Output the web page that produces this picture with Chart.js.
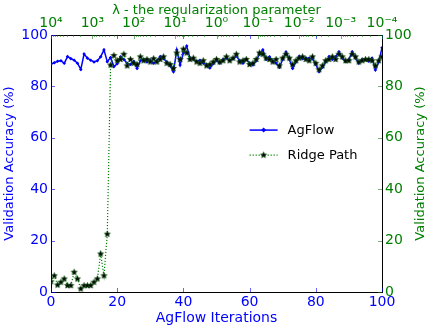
<!DOCTYPE html>
<html>
<head>
<meta charset="utf-8">
<script src="https://cdn.jsdelivr.net/npm/chart.js@4.4.0/dist/chart.umd.min.js"></script>
<style>
  html, body { margin: 0; padding: 0; background: #fff; }
</style>
</head>
<body>
<canvas id="chart" width="432" height="330"></canvas>
<script>
// data
const iterations = Array.from({ length: 101 }, (_, i) => i);
const agflowAcc = [
  88.7, 89.2, 89.8, 90.0, 89.0, 91.6, 90.8, 90.2, 89.0, 86.6,
  92.6, 91.0, 90.2, 89.5, 90.0, 91.5, 94.2, 89.6, 91.2, 87.7,
  88.8, 91.5, 90.5, 89.0, 88.5, 89.8, 87.0, 90.0, 90.5, 89.5,
  90.3, 89.0, 90.0, 91.6, 90.8, 89.5, 88.0, 85.7, 94.2, 88.3,
  93.0, 95.7, 91.0, 90.5, 89.7, 90.2, 89.0, 88.5, 87.2, 88.8,
  90.0, 89.0, 90.5, 91.0, 90.2, 90.8, 91.8, 90.0, 89.0, 90.5,
  89.0, 88.3, 90.0, 92.5, 94.2, 90.5, 91.5, 90.0, 89.0, 87.4,
  90.5, 93.4, 90.5, 87.0, 89.5, 91.7, 90.8, 91.0, 91.0, 90.8,
  88.5, 85.7, 87.5, 89.5, 91.6, 90.5, 91.5, 93.5, 91.0, 89.6,
  90.5, 93.5, 91.0, 89.0, 90.5, 90.3, 89.8, 91.0, 86.4, 89.5,
  95.0
];
const ridgeAcc = [
  4.0, 6.3, 2.7, 3.8, 5.1, 2.5, 2.5, 7.7, 5.1, 1.2,
  2.5, 2.5, 2.5, 3.8, 5.1, 14.8, 6.3, 22.5, 88.3, 92.0,
  90.0, 90.5, 92.5, 88.0, 90.5, 89.0, 88.5, 91.5, 90.0, 90.5,
  89.5, 90.8, 89.5, 90.5, 91.5, 89.0, 88.5, 87.0, 93.0, 90.5,
  94.5, 93.0, 90.5, 91.0, 89.5, 89.0, 90.0, 88.0, 88.5, 89.5,
  90.5, 89.5, 90.0, 91.5, 90.0, 91.0, 92.5, 89.5, 90.0, 90.5,
  88.5, 89.0, 90.5, 93.0, 92.5, 91.0, 90.5, 89.5, 90.5, 88.0,
  91.0, 92.5, 91.0, 88.5, 90.0, 91.0, 91.5, 90.5, 90.0, 91.5,
  89.0, 86.5, 88.0, 90.0, 90.5, 91.5, 90.5, 92.5, 91.5, 90.0,
  90.0, 92.5, 91.5, 89.5, 90.0, 90.5, 90.5, 90.0, 88.0, 90.0,
  91.5
];
const xTicks = [0, 20, 40, 60, 80, 100];
const yTicks = [0, 20, 40, 60, 80, 100];
const lambdaLabels = ['10\u2074', '10\u00b3', '10\u00b2', '10\u00b9', '10\u2070',
  '10\u207b\u00b9', '10\u207b\u00b2', '10\u207b\u00b3', '10\u207b\u2074'];

const BLUE = '#0000ff';
const GREEN = '#008000';
Chart.defaults.font.family = "'DejaVu Sans', sans-serif";

function makeStar(r) {
  const c = document.createElement('canvas');
  const s = Math.ceil(r * 2 + 2);
  c.width = c.height = s;
  const g = c.getContext('2d');
  g.beginPath();
  for (let k = 0; k < 10; k++) {
    const rad = k % 2 ? r * 0.45 : r;
    const a = -Math.PI / 2 + k * Math.PI / 5;
    g.lineTo(s / 2 + rad * Math.cos(a), s / 2 + rad * Math.sin(a));
  }
  g.closePath();
  g.fillStyle = '#000';
  g.fill();
  g.strokeStyle = '#0a4a0a';
  g.lineWidth = 0.7;
  g.stroke();
  return c;
}
const star = makeStar(3.1);

// inward ticks, right-hand title and the legend
const extras = {
  id: 'extras',
  afterDraw(chart) {
    const { ctx, chartArea: a, scales } = chart;
    ctx.save();
    ctx.lineWidth = 1;
    const tick = (x1, y1, x2, y2) => { ctx.beginPath(); ctx.moveTo(x1, y1); ctx.lineTo(x2, y2); ctx.stroke(); };

    ctx.strokeStyle = 'rgba(0,0,255,0.6)';
    xTicks.forEach(v => {
      const p = Math.round(scales.x.getPixelForValue(v)) + 0.5;
      tick(p, a.bottom, p, a.bottom - 4);
      tick(p, a.top, p, a.top + 4);
    });
    yTicks.forEach(v => {
      const p = Math.round(scales.y.getPixelForValue(v)) + 0.5;
      tick(a.left, p, a.left + 4, p);
    });
    ctx.strokeStyle = 'rgba(0,128,0,0.55)';
    yTicks.forEach(v => {
      const p = Math.round(scales.y2.getPixelForValue(v)) + 0.5;
      tick(a.right, p, a.right - 4, p);
    });
    lambdaLabels.forEach((_, d) => {
      const p = Math.round(scales.x2.getPixelForValue(d)) + 0.5;
      tick(p, a.top, p, a.top + 4);
      if (d < lambdaLabels.length - 1) {
        for (let k = 2; k <= 9; k++) {
          const q = Math.round(scales.x2.getPixelForValue(d + 1 - Math.log10(k))) + 0.5;
          tick(q, a.top, q, a.top + 2);
        }
      }
    });

    // right axis title, reading bottom to top
    ctx.fillStyle = GREEN;
    ctx.font = "13px 'DejaVu Sans'";
    ctx.textAlign = 'center';
    ctx.textBaseline = 'middle';
    ctx.translate(421, (a.top + a.bottom) / 2);
    ctx.rotate(-Math.PI / 2);
    ctx.fillText('Validation Accuracy (%)', 0, 0);
    ctx.restore();

    // legend
    ctx.save();
    const lx = a.left + 0.6 * (a.right - a.left);
    const ly = a.top + 0.37 * (a.bottom - a.top);
    ctx.font = "13px 'DejaVu Sans'";
    ctx.textBaseline = 'middle';
    ctx.strokeStyle = BLUE;
    ctx.lineWidth = 1.5;
    tick(lx, ly, lx + 28, ly);
    ctx.fillStyle = BLUE;
    ctx.beginPath();
    ctx.moveTo(lx + 14, ly - 2.5); ctx.lineTo(lx + 16.5, ly); ctx.lineTo(lx + 14, ly + 2.5); ctx.lineTo(lx + 11.5, ly);
    ctx.closePath(); ctx.fill();
    ctx.fillStyle = '#000';
    ctx.fillText('AgFlow', lx + 38, ly + 1);

    const ly2 = ly + 25;
    ctx.strokeStyle = GREEN;
    ctx.lineWidth = 1.2;
    ctx.setLineDash([1.2, 1.8]);
    tick(lx, ly2, lx + 28, ly2);
    ctx.setLineDash([]);
    ctx.drawImage(star, lx + 14 - star.width / 2, ly2 - star.height / 2);
    ctx.fillStyle = '#000';
    ctx.fillText('Ridge Path', lx + 38, ly2 + 1);
    ctx.restore();
  }
};

new Chart(document.getElementById('chart'), {
  type: 'line',
  data: {
    datasets: [
      {
        label: 'AgFlow',
        data: iterations.map((x, i) => ({ x: x, y: agflowAcc[i] })),
        borderColor: BLUE,
        backgroundColor: BLUE,
        borderWidth: 1.5,
        pointStyle: 'rectRot',
        pointRadius: 1.8,
        pointBorderWidth: 0,
        xAxisID: 'x',
        yAxisID: 'y',
        order: 1
      },
      {
        label: 'Ridge Path',
        data: iterations.map((x, i) => ({ x: x, y: ridgeAcc[i] })),
        borderColor: GREEN,
        borderWidth: 1.2,
        borderDash: [1.2, 1.8],
        pointStyle: star,
        xAxisID: 'x',
        yAxisID: 'y2',
        order: 0
      }
    ]
  },
  options: {
    responsive: false,
    animation: false,
    layout: { padding: 0 },
    plugins: { legend: { display: false }, tooltip: { enabled: false } },
    scales: {
      x: {
        type: 'linear', position: 'bottom', min: 0, max: 100,
        grid: { display: false, drawTicks: false },
        border: { display: true, color: '#000', width: 1 },
        ticks: { stepSize: 20, color: BLUE, font: { size: 14 }, padding: 2, maxRotation: 0 },
        title: { display: true, text: 'AgFlow Iterations', color: BLUE, font: { size: 14 }, padding: { top: 0, bottom: 3 } },
        afterFit: s => { s.height = 38; }
      },
      x2: {
        type: 'linear', position: 'top', min: 0, max: 8,
        grid: { display: false, drawTicks: false },
        border: { display: true, color: '#000', width: 1 },
        ticks: { stepSize: 1, color: GREEN, font: { size: 14 }, padding: 3, maxRotation: 0,
          callback: v => lambdaLabels[v] },
        title: { display: true, text: '\u03bb - the regularization parameter', color: GREEN, font: { size: 13 }, padding: { top: 3, bottom: 0 } },
        afterFit: s => { s.height = 35; }
      },
      y: {
        type: 'linear', position: 'left', min: 0, max: 100,
        grid: { display: false, drawTicks: false },
        border: { display: true, color: '#000', width: 1 },
        ticks: { stepSize: 20, color: BLUE, font: { size: 14 }, padding: 3 },
        title: { display: true, text: 'Validation Accuracy (%)', color: BLUE, font: { size: 13 }, padding: { top: 2, bottom: 0 } },
        afterFit: s => { s.width = 51; }
      },
      y2: {
        type: 'linear', position: 'right', min: 0, max: 100,
        grid: { display: false, drawTicks: false },
        border: { display: true, color: '#000', width: 1 },
        ticks: { stepSize: 20, color: GREEN, font: { size: 14 }, padding: 3 },
        afterFit: s => { s.width = 50; }
      }
    }
  },
  plugins: [extras]
});
</script>
</body>
</html>
